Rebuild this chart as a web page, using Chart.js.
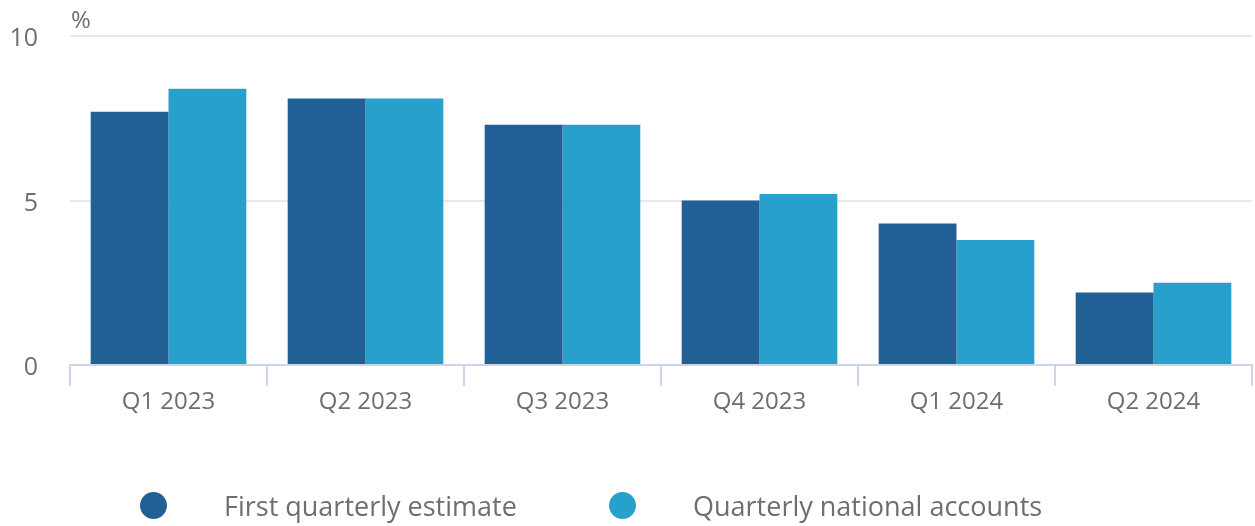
<!DOCTYPE html>
<html>
<head>
<meta charset="utf-8">
<script src="https://cdn.jsdelivr.net/npm/chart.js@4.4.1/dist/chart.umd.min.js"></script>
<style>
  html, body { margin: 0; padding: 0; background: #fff; }
  #wrap { position: relative; width: 1255px; height: 526px; font-family: 'Open Sans', sans-serif; }
  #legend { position: absolute; left: 0; top: 0; width: 1255px; height: 526px; pointer-events: none; }
  .item { position: absolute; display: flex; align-items: center; color: #6e6e6e; font-size: 27px; }
  .dot { position: absolute; width: 27px; height: 27px; border-radius: 50%; }
</style>
</head>
<body>
<div id="wrap">
  <canvas id="chart" width="1255" height="526"></canvas>
  <div id="legend"></div>
</div>
<script>
const categories = ['Q1 2023', 'Q2 2023', 'Q3 2023', 'Q4 2023', 'Q1 2024', 'Q2 2024']
const firstEstimate = [7.7, 8.1, 7.3, 5.0, 4.3, 2.2]
const nationalAccounts = [8.4, 8.1, 7.3, 5.2, 3.8, 2.5]
const yTicks = [0, 5, 10]
const seriesNames = ['First quarterly estimate', 'Quarterly national accounts']

const darkBlue = '#206095'
const lightBlue = '#27a0cc'
const textGrey = '#6e6e6e'
const axisBlue = '#ccd6eb'

// small "%" unit label above the y axis
const unitLabel = {
  id: 'unitLabel',
  afterDraw(chart) {
    const { ctx, chartArea } = chart
    ctx.save()
    ctx.font = "24px 'Open Sans'"
    ctx.fillStyle = textGrey
    ctx.textBaseline = 'alphabetic'
    ctx.fillText('%', chartArea.left + 1, 28)
    ctx.restore()
  },
}

new Chart(document.getElementById('chart'), {
  type: 'bar',
  data: {
    labels: categories,
    datasets: [
      { label: seriesNames[0], data: firstEstimate, backgroundColor: darkBlue, categoryPercentage: 0.79, barPercentage: 1 },
      { label: seriesNames[1], data: nationalAccounts, backgroundColor: lightBlue, categoryPercentage: 0.79, barPercentage: 1 },
    ],
  },
  options: {
    responsive: false,
    animation: false,
    layout: { autoPadding: false, padding: { top: 36, right: 3, left: 0, bottom: 101 } },
    plugins: {
      legend: { display: false },
      tooltip: { enabled: false },
    },
    scales: {
      x: {
        offset: true,
        grid: { display: true, offset: true, drawOnChartArea: false, drawTicks: true, tickLength: 21, color: axisBlue, lineWidth: 2 },
        border: { display: true, color: axisBlue, width: 2 },
        ticks: { color: textGrey, font: { family: 'Open Sans', size: 24 }, padding: 2, maxRotation: 0 },
        afterFit: (s) => { s.height = 60 },
      },
      y: {
        min: 0,
        max: 10,
        afterBuildTicks: (s) => { s.ticks = yTicks.map(v => ({ value: v })) },
        grid: { drawTicks: false, color: (c) => c.tick && c.tick.value === 0 ? 'rgba(0,0,0,0)' : '#e8e8e8', lineWidth: 2 },
        border: { display: false },
        ticks: { color: textGrey, font: { family: 'Open Sans', size: 25 }, padding: 32, labelOffset: 3 },
        // tick padding also pads the top of the axis, drop that
        afterFit: (s) => { s.width = 70; s.paddingTop = 0; s.paddingBottom = 0 },
      },
    },
  },
  plugins: [unitLabel],
})

// legend drawn as html so the spacing matches the original
const legendPos = [{ dot: 140, text: 224 }, { dot: 609, text: 693 }]
const legend = document.getElementById('legend')
seriesNames.forEach((name, i) => {
  const dot = document.createElement('div')
  dot.className = 'dot'
  dot.style.left = legendPos[i].dot + 'px'
  dot.style.top = '492px'
  dot.style.background = i === 0 ? darkBlue : lightBlue
  legend.appendChild(dot)
  const txt = document.createElement('div')
  txt.className = 'item'
  txt.style.left = legendPos[i].text + 'px'
  txt.style.top = '487px'
  txt.textContent = name
  legend.appendChild(txt)
})
</script>
</body>
</html>
